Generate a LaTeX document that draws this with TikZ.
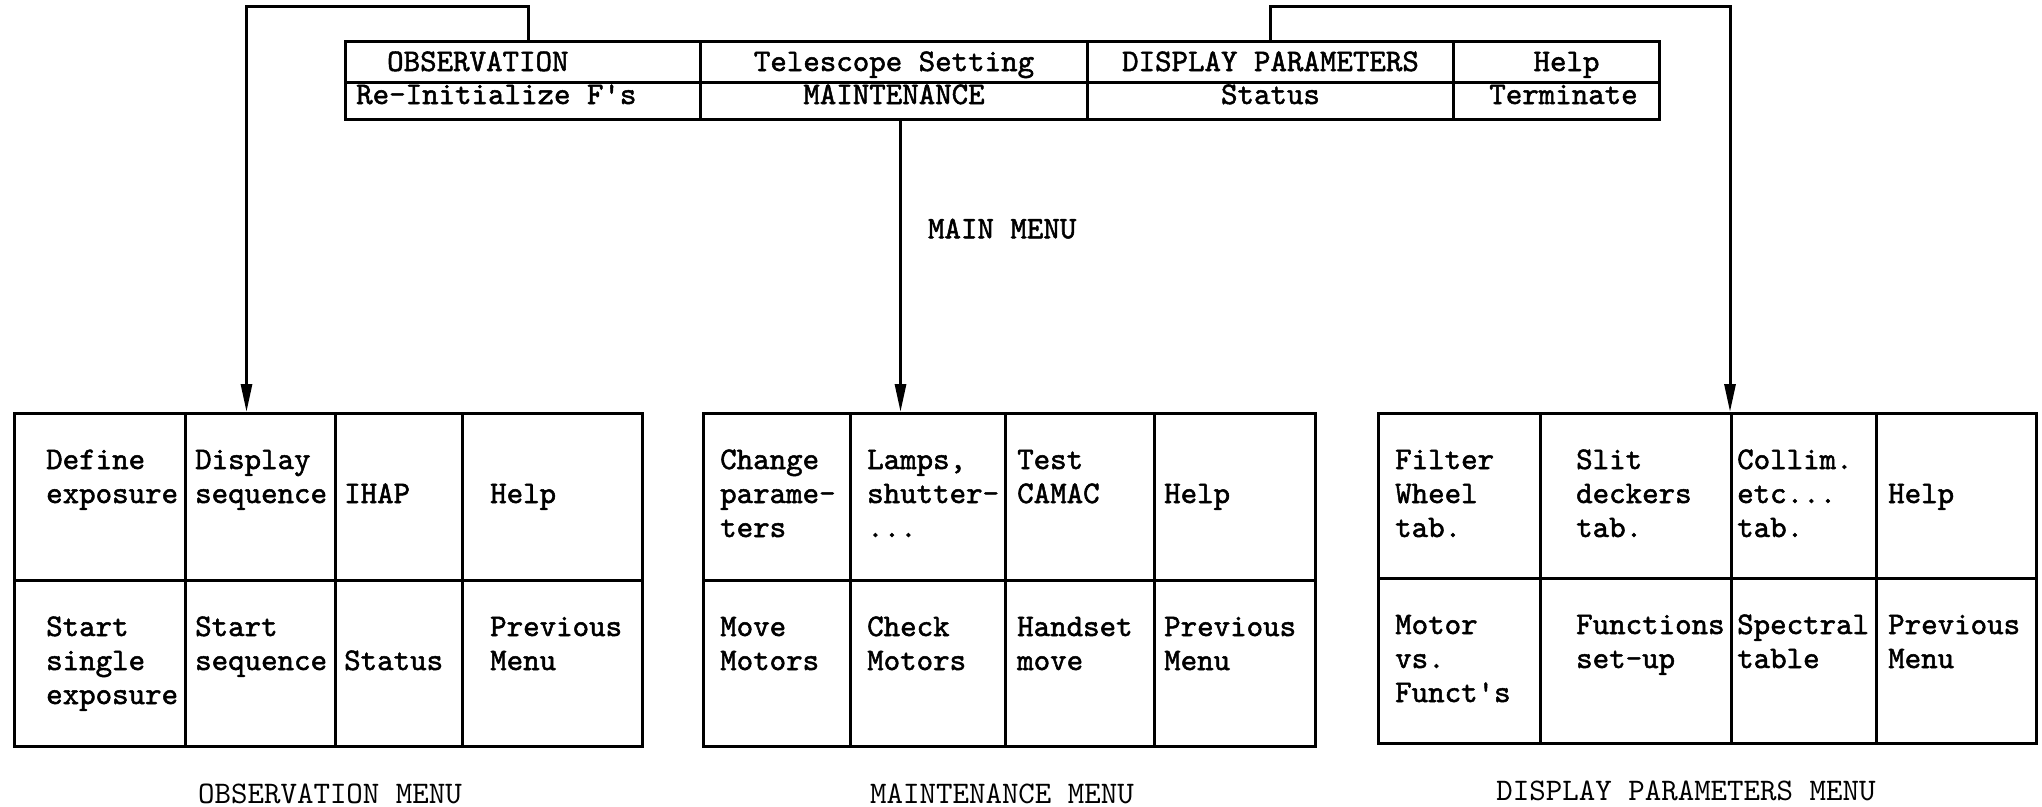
\documentclass[tikz,border=0pt]{standalone}
\usepackage{fontspec}
\setmonofont{lmmono10-regular.otf}[BoldFont=lmmono10-regular.otf, BoldFeatures={FakeBold=1.6}]
\usetikzlibrary{arrows.meta, positioning}

\tikzset{
  cell/.style={draw, line width=3pt, anchor=north west, inner sep=0pt},
  entry/.style={anchor=base west, align=left, inner sep=0pt,
    font=\ttfamily\bfseries\fontsize{31.4}{34}\selectfont},
  head/.style={anchor=base, inner sep=0pt,
    font=\ttfamily\bfseries\fontsize{31.4}{34}\selectfont},
  caption/.style={anchor=base, inner sep=0pt,
    font=\ttfamily\fontsize{31.4}{34}\selectfont},
  link/.style={line width=3pt, -{Triangle[length=28pt, width=11pt]}},
}

\begin{document}
\begin{tikzpicture}[x=1pt, y=-1pt]
    \useasboundingbox (0,0) rectangle (2042,806);

    % main menu
    \node[cell, minimum width=355pt, minimum height=41pt] (obs) at (344,40) {};
    \node[cell, minimum width=387pt, minimum height=41pt] (tel) at (699,40) {};
    \node[cell, minimum width=366pt, minimum height=41pt] (disp) at (1086,40) {};
    \node[cell, minimum width=206pt, minimum height=41pt] (help) at (1452,40) {};
    \node[cell, minimum width=355pt, minimum height=37pt] (reinit) at (344,81) {};
    \node[cell, minimum width=387pt, minimum height=37pt] (mnt) at (699,81) {};
    \node[cell, minimum width=366pt, minimum height=37pt] (stat) at (1086,81) {};
    \node[cell, minimum width=206pt, minimum height=37pt] (term) at (1452,81) {};

    \node[entry] (t-obs) at ([shift={(43,31)}]obs.north west) {OBSERVATION};
    \node[entry] (t-reinit) at ([shift={(12,23)}]reinit.north west) {Re-Initialize F's};
    \node[head] (t-tel) at ([shift={(0,31)}]tel.north) {Telescope Setting};
    \node[head] (t-mnt) at ([shift={(0,23)}]mnt.north) {MAINTENANCE};
    \node[head] (t-disp) at ([shift={(0,31)}]disp.north) {DISPLAY PARAMETERS};
    \node[head] (t-stat) at ([shift={(0,23)}]stat.north) {Status};
    \node[head] (t-help) at ([shift={(10,31)}]help.north) {Help};
    \node[head] (t-term) at ([shift={(7,23)}]term.north) {Terminate};

    % observation menu
    \node[cell, minimum width=171pt, minimum height=167pt] (ob11) at (13,412) {};
    \node[cell, minimum width=150pt, minimum height=167pt] (ob12) at (184,412) {};
    \node[cell, minimum width=127pt, minimum height=167pt] (ob13) at (334,412) {};
    \node[cell, minimum width=180pt, minimum height=167pt] (ob14) at (461,412) {};
    \node[cell, minimum width=171pt, minimum height=166pt] (ob21) at (13,579) {};
    \node[cell, minimum width=150pt, minimum height=166pt] (ob22) at (184,579) {};
    \node[cell, minimum width=127pt, minimum height=166pt] (ob23) at (334,579) {};
    \node[cell, minimum width=180pt, minimum height=166pt] (ob24) at (461,579) {};

    % base = last line, so two and one line entries sit at 91, three lines at 125
    \node[entry] (t-ob11) at ([shift={(33,91)}]ob11.north west) {Define\\exposure};
    \node[entry] (t-ob12) at ([shift={(11,91)}]ob12.north west) {Display\\sequence};
    \node[entry] (t-ob13) at ([shift={(10,91)}]ob13.north west) {IHAP};
    \node[entry] (t-ob14) at ([shift={(29,91)}]ob14.north west) {Help};
    \node[entry] (t-ob21) at ([shift={(33,125)}]ob21.north west) {Start\\single\\exposure};
    \node[entry] (t-ob22) at ([shift={(11,91)}]ob22.north west) {Start\\sequence};
    \node[entry] (t-ob23) at ([shift={(10,91)}]ob23.north west) {Status};
    \node[entry] (t-ob24) at ([shift={(29,91)}]ob24.north west) {Previous\\Menu};

    % maintenance menu
    \node[cell, minimum width=147pt, minimum height=167pt] (mb11) at (702,412) {};
    \node[cell, minimum width=155pt, minimum height=167pt] (mb12) at (849,412) {};
    \node[cell, minimum width=149pt, minimum height=167pt] (mb13) at (1004,412) {};
    \node[cell, minimum width=161pt, minimum height=167pt] (mb14) at (1153,412) {};
    \node[cell, minimum width=147pt, minimum height=166pt] (mb21) at (702,579) {};
    \node[cell, minimum width=155pt, minimum height=166pt] (mb22) at (849,579) {};
    \node[cell, minimum width=149pt, minimum height=166pt] (mb23) at (1004,579) {};
    \node[cell, minimum width=161pt, minimum height=166pt] (mb24) at (1153,579) {};

    \node[entry] (t-mb11) at ([shift={(18,125)}]mb11.north west) {Change\\parame-\\ters};
    \node[entry] (t-mb12) at ([shift={(18,125)}]mb12.north west) {Lamps,\\shutter-\\...};
    \node[entry] (t-mb13) at ([shift={(13,91)}]mb13.north west) {Test\\CAMAC};
    \node[entry] (t-mb14) at ([shift={(11,91)}]mb14.north west) {Help};
    \node[entry] (t-mb21) at ([shift={(18,91)}]mb21.north west) {Move\\Motors};
    \node[entry] (t-mb22) at ([shift={(18,91)}]mb22.north west) {Check\\Motors};
    \node[entry] (t-mb23) at ([shift={(13,91)}]mb23.north west) {Handset\\move};
    \node[entry] (t-mb24) at ([shift={(11,91)}]mb24.north west) {Previous\\Menu};

    % display parameters menu
    \node[cell, minimum width=162pt, minimum height=165pt] (db11) at (1377,412) {};
    \node[cell, minimum width=191pt, minimum height=165pt] (db12) at (1539,412) {};
    \node[cell, minimum width=145pt, minimum height=165pt] (db13) at (1730,412) {};
    \node[cell, minimum width=160pt, minimum height=165pt] (db14) at (1875,412) {};
    \node[cell, minimum width=162pt, minimum height=165pt] (db21) at (1377,577) {};
    \node[cell, minimum width=191pt, minimum height=165pt] (db22) at (1539,577) {};
    \node[cell, minimum width=145pt, minimum height=165pt] (db23) at (1730,577) {};
    \node[cell, minimum width=160pt, minimum height=165pt] (db24) at (1875,577) {};

    \node[entry] (t-db11) at ([shift={(18,125)}]db11.north west) {Filter\\Wheel\\tab.};
    \node[entry] (t-db12) at ([shift={(37,125)}]db12.north west) {Slit\\deckers\\tab.};
    \node[entry] (t-db13) at ([shift={(7,125)}]db13.north west) {Collim.\\etc...\\tab.};
    \node[entry] (t-db14) at ([shift={(13,91)}]db14.north west) {Help};
    \node[entry] (t-db21) at ([shift={(18,125)}]db21.north west) {Motor\\vs.\\Funct's};
    \node[entry] (t-db22) at ([shift={(37,91)}]db22.north west) {Functions\\set-up};
    \node[entry] (t-db23) at ([shift={(7,91)}]db23.north west) {Spectral\\table};
    \node[entry] (t-db24) at ([shift={(13,91)}]db24.north west) {Previous\\Menu};

    % menu names
    \node[caption] (c-ob) at ([shift={(-7,55)}]ob22.south east) {OBSERVATION MENU};
    \node[caption] (c-mb) at ([shift={(-5,55)}]mb22.south east) {MAINTENANCE MENU};
    \node[caption] (c-db) at ([shift={(-47,55)}]db22.south east) {DISPLAY PARAMETERS MENU};

    % links
    \draw[link] ([xshift=5.5pt]obs.north) -- ++(0,-34) -| ([xshift=-14pt]ob12.north);
    \draw[link] (disp.north) -- ++(0,-34) -| (db13.north west);
    \draw[link] ([xshift=6.5pt]mnt.south) --
        node[entry, pos=0.37, right=26pt, anchor=west] (mainlbl) {MAIN MENU}
        ([xshift=6.5pt]mnt.south |- mb12.north);

\end{tikzpicture}
\end{document}
